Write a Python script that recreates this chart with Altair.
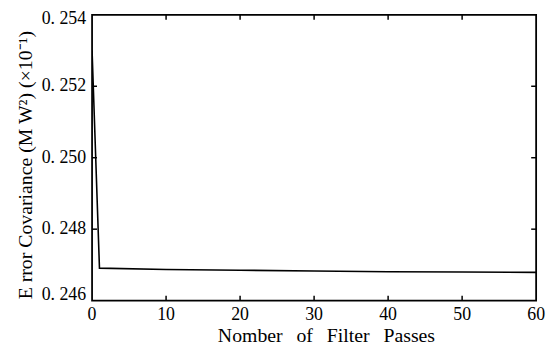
import altair as alt
import pandas as pd

passes = [0, 1, 10, 20, 30, 40, 50, 60]
error_cov = [0.2530, 0.24691, 0.24687, 0.24685, 0.24683, 0.24681, 0.24680, 0.24679]
x_ticks = [0, 10, 20, 30, 40, 50, 60]
y_ticks = [0.246, 0.248, 0.250, 0.252, 0.254]
x_title = ["Nomber\u2002\u2009of\u2002\u2009Filter\u2002\u2009Passes"]
y_title = ["E rror Covariance (M W²) (×10⁻¹)"]

df = pd.DataFrame({"passes": passes, "cov": error_cov})
xt = pd.DataFrame({"passes": x_ticks})
yt = pd.DataFrame({"cov": y_ticks})
xtit = pd.DataFrame({"title": x_title})
ytit = pd.DataFrame({"title": y_title})

W, H = 449, 289
TL = 5
FONT = "Liberation Serif"
xs = alt.Scale(domain=[0, 60], nice=False)
ys = alt.Scale(domain=[0.246, 0.254], nice=False)
X = alt.X("passes:Q", scale=xs, axis=None)
Y = alt.Y("cov:Q", scale=ys, axis=None)

line = alt.Chart(df).mark_line(color="black", strokeWidth=1.6, clip=True).encode(x=X, y=Y)

tk = dict(color="black", thickness=1.5, size=TL, opacity=1)
inner_x = alt.Chart(xt).transform_filter("datum.passes > 0 && datum.passes < 60")
inner_y = alt.Chart(yt).transform_filter("datum.cov > 0.2461 && datum.cov < 0.2539")
tick_bottom = inner_x.mark_tick(orient="vertical", **tk).encode(x=X, y=alt.value(H - TL / 2))
tick_top = inner_x.mark_tick(orient="vertical", **tk).encode(x=X, y=alt.value(TL / 2))
tick_left = inner_y.mark_tick(orient="horizontal", **tk).encode(y=Y, x=alt.value(TL / 2))
tick_right = inner_y.mark_tick(orient="horizontal", **tk).encode(y=Y, x=alt.value(W - TL / 2))

txt = dict(font=FONT, color="black")
x_labels = alt.Chart(xt).mark_text(fontSize=18, baseline="top", align="center", **txt).encode(
    x=X, y=alt.value(H + 6), text=alt.Text("passes:Q", format="d"))

ylab = alt.Chart(yt).transform_calculate(
    lab="replace(format(datum.cov, '.3f'), '.', '. ')")
y_lab_mid = ylab.transform_filter("datum.cov > 0.2461 && datum.cov < 0.2539").mark_text(
    fontSize=18, baseline="middle", align="right", **txt).encode(
    y=Y, x=alt.value(-6), text="lab:N")
y_lab_top = ylab.transform_filter("datum.cov > 0.2539").mark_text(
    fontSize=18, baseline="middle", align="right", dy=4, **txt).encode(
    y=Y, x=alt.value(-6), text="lab:N")
y_lab_bot = ylab.transform_filter("datum.cov < 0.2461").mark_text(
    fontSize=18, baseline="middle", align="right", dy=-6, **txt).encode(
    y=Y, x=alt.value(-6), text="lab:N")

x_tit = alt.Chart(xtit).mark_text(fontSize=20, baseline="alphabetic",
                                  align="center", **txt).encode(
    x=alt.value(237), y=alt.value(H + 42), text="title:N")
y_tit = alt.Chart(ytit).mark_text(fontSize=20, baseline="middle",
                                  align="center", angle=270, **txt).encode(
    x=alt.value(-67), y=alt.value(152), text="title:N")

chart = alt.layer(
    line, tick_bottom, tick_top, tick_left, tick_right,
    x_labels, y_lab_mid, y_lab_top, y_lab_bot, x_tit, y_tit,
).properties(
    width=W, height=H,
    autosize=alt.AutoSizeParams(type="none"),
    padding={"left": 85, "top": 5, "right": 12, "bottom": 44},
    background="white",
).configure_view(stroke="black", strokeWidth=1.8)

chart.save("out.html", embed_options={"renderer": "svg", "actions": False})
